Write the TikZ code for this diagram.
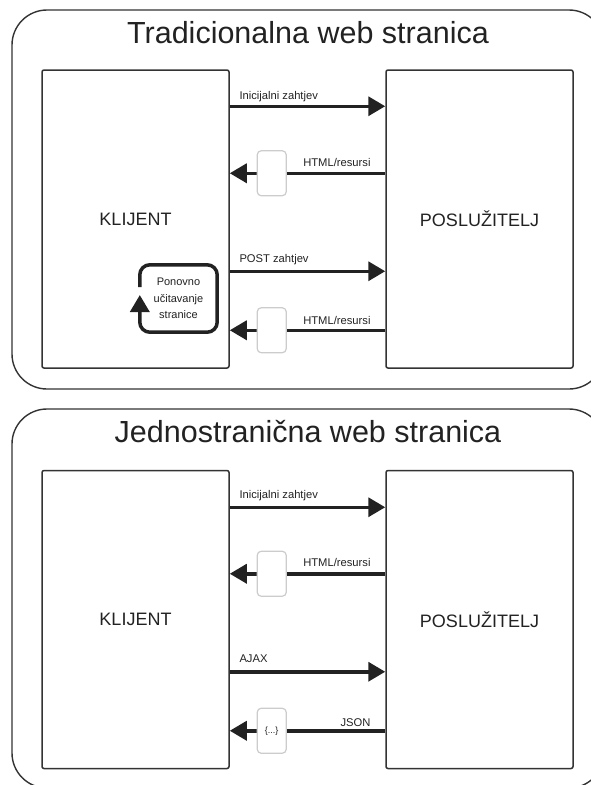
\documentclass[tikz,border=0pt]{standalone}
\usepackage{fontspec}
\setmainfont{Liberation Sans}
\usetikzlibrary{arrows.meta}
\definecolor{ink}{HTML}{222222}
\definecolor{edge}{HTML}{333333}
\definecolor{softgray}{HTML}{CCCCCC}
\begin{document}
\begin{tikzpicture}[x=1pt,y=-1pt,
 outerbox/.style={draw=edge,line width=1.4pt,rounded corners=35pt},
 party/.style={draw=edge,line width=1.5pt,rounded corners=2pt,minimum width=187pt,minimum height=298pt,inner sep=0pt,font=\fontsize{18}{21}\selectfont,text=ink},
 title/.style={font=\fontsize{30.5}{34}\selectfont,text=ink,anchor=base,inner sep=0pt},
 msg/.style={draw=ink,line width=3.5pt,-{Triangle[length=17pt,width=19pt]}},
 lbl/.style={font=\fontsize{11.2}{13}\selectfont,text=ink,inner sep=0pt},
 payload/.style={draw=softgray,fill=white,line width=1.2pt,rounded corners=4pt,minimum width=29pt,minimum height=45pt,inner sep=0pt,font=\fontsize{9}{10}\selectfont,text=ink},
 loopbox/.style={minimum width=77pt,minimum height=67pt,inner sep=0pt,align=center,font=\fontsize{11}{16.5}\selectfont,text=ink},
 loopline/.style={draw=ink,line width=3.5pt,rounded corners=10pt,-{Triangle[length=17pt,width=19pt]}}
]
\useasboundingbox (0,0) rectangle (591,785);
\begin{scope}
\clip (0,0) rectangle (591,785);
% outer frames
\draw[outerbox] (12,10) rectangle (604,389);
\draw[outerbox] (12,409) rectangle (604,788);
\end{scope}

% ---------- top section ----------
\node[title] (t1) at (308,43) {Tradicionalna web stranica};
\node[party] (c1) at (135.5,219) {KLIJENT};
\node[party] (s1) at (479.5,219) {POSLUŽITELJ};

\draw[msg] ([yshift=-37pt]c1.north east) -- ([yshift=-37pt]s1.north west)
  node[lbl,at start,anchor=base west,xshift=8pt,yshift=6.5pt] {Inicijalni zahtjev};
\draw[msg] ([yshift=-104pt]s1.north west) -- ([yshift=-104pt]c1.north east)
  node[lbl,at start,anchor=base east,xshift=-13pt,yshift=7pt] {HTML/resursi}
  node[payload,pos=0.73] (g1) {};
\draw[msg] ([yshift=-202pt]c1.north east) -- ([yshift=-202pt]s1.north west)
  node[lbl,at start,anchor=base west,xshift=8pt,yshift=9pt] {POST zahtjev};
\draw[msg] ([yshift=-261pt]s1.north west) -- ([yshift=-261pt]c1.north east)
  node[lbl,at start,anchor=base east,xshift=-13pt,yshift=6pt] {HTML/resursi}
  node[payload,pos=0.73] (g2) {};

\node[loopbox] (rl) at (178.5,298.5) {Ponovno\\učitavanje\\stranice};
\draw[loopline] ([yshift=11.5pt]rl.west) -- (rl.north west) -- (rl.north east)
  -- (rl.south east) -- (rl.south west) -- ([yshift=3.5pt]rl.west);

% ---------- bottom section ----------
\node[title] (t2) at (308,442) {Jednostranična web stranica};
\node[party] (c2) at (135.5,619.5) {KLIJENT};
\node[party] (s2) at (479.5,619.5) {POSLUŽITELJ};

\draw[msg] ([yshift=-37.5pt]c2.north east) -- ([yshift=-37.5pt]s2.north west)
  node[lbl,at start,anchor=base west,xshift=8pt,yshift=8.5pt] {Inicijalni zahtjev};
\draw[msg] ([yshift=-104pt]s2.north west) -- ([yshift=-104pt]c2.north east)
  node[lbl,at start,anchor=base east,xshift=-13pt,yshift=7.3pt] {HTML/resursi}
  node[payload,pos=0.73] (g3) {};
\draw[msg] ([yshift=-202pt]c2.north east) -- ([yshift=-202pt]s2.north west)
  node[lbl,at start,anchor=base west,xshift=8pt,yshift=9pt] {AJAX};
\draw[msg] ([yshift=-261pt]s2.north west) -- ([yshift=-261pt]c2.north east)
  node[lbl,at start,anchor=base east,xshift=-13pt,yshift=4.5pt] {JSON}
  node[payload,pos=0.73] (g4) {\{...\}};
\end{tikzpicture}
\end{document}
